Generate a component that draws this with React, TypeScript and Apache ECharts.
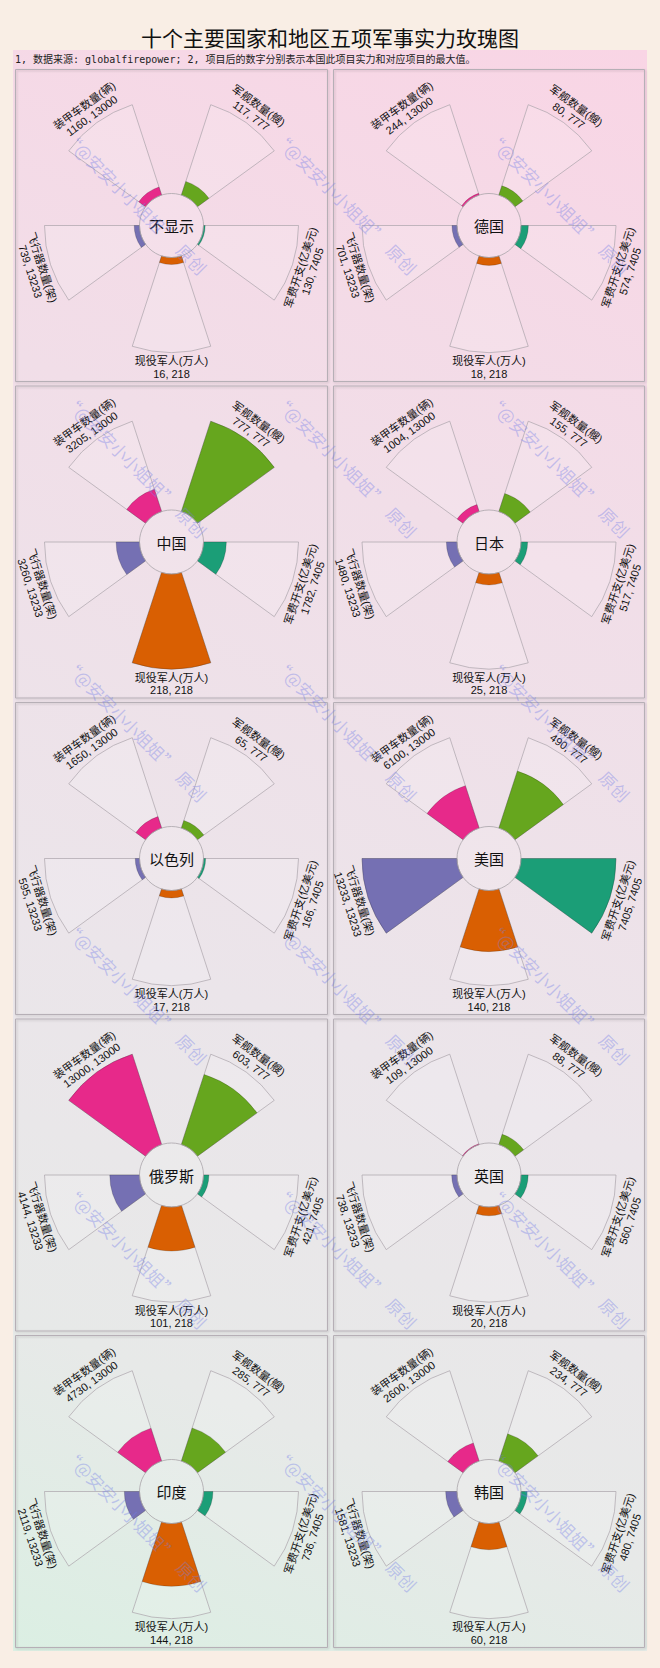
import React, { useEffect, useRef } from "react";
import * as echarts from "echarts";

// ---------------- data ----------------
const countries = ["不显示", "德国", "中国", "日本", "以色列", "美国", "俄罗斯", "英国", "印度", "韩国"];
const itemNames = ["装甲车数量(辆)", "军舰数量(艘)", "军费开支(亿美元)", "现役军人(万人)", "飞行器数量(架)"];
const tanks = [1160, 244, 3205, 1004, 1650, 6100, 13000, 109, 4730, 2600];
const warships = [117, 80, 777, 155, 65, 490, 603, 88, 285, 234];
const spending = [130, 574, 1782, 517, 166, 7405, 421, 560, 736, 480];
const troops = [16, 18, 218, 25, 17, 140, 101, 20, 144, 60];
const aircraft = [739, 701, 3260, 1480, 595, 13233, 4144, 738, 2119, 1581];
const itemColors = ["#e7298a", "#66a61e", "#1b9e77", "#d95f02", "#7570b3"];
const titleText = "十个主要国家和地区五项军事实力玫瑰图";
const noteText = "1, 数据来源: globalfirepower; 2, 项目后的数字分别表示本国此项目实力和对应项目的最大值。";
const watermarkText = "“@安安小小姐姐”  原创";

// ---------------- layout ----------------
const W = 660;
const H = 1668;
const panelX = [15, 333];
const panelW = [313, 312];
const panelTop = [69, 385.5, 702, 1018.5, 1335];
const panelH = 313;
const R0 = 32;
const R1 = 127;
const RL = 142;
const CJK = "'Noto Sans CJK SC', 'Noto Sans', sans-serif";
const LABEL_FONT = "'Liberation Sans', 'Noto Sans CJK SC', sans-serif";

const seriesByItem = [tanks, warships, spending, troops, aircraft];
const maxByItem = seriesByItem.map((a) => Math.max(...a));
const slots = ["s0", "g0", "s1", "g1", "s2", "g2", "s3", "g3", "s4", "g4"];

export default function App() {
  const ref = useRef<HTMLDivElement>(null);
  useEffect(() => {
    document.body.style.margin = "0";
    const chart = echarts.init(ref.current!, null, { renderer: "svg", width: W, height: H });

    const centers = countries.map((_, i) => {
      const col = i % 2;
      const row = Math.floor(i / 2);
      return [panelX[col] + panelW[col] / 2, panelTop[row] + panelH / 2];
    });

    const graphics: any[] = [];
    // chart-area gradient
    graphics.push({
      type: "rect",
      z: -20,
      silent: true,
      shape: { x: 13, y: 50, width: 634, height: 1601 },
      style: {
        fill: new echarts.graphic.LinearGradient(
          647, 50, 13, 1651,
          [
            { offset: 0, color: "#f9d5e5" },
            { offset: 0.3, color: "#f1dee8" },
            { offset: 0.6, color: "#ebe5ea" },
            { offset: 0.82, color: "#e7e9e8" },
            { offset: 1, color: "#dbefe3" },
          ],
          true
        ),
      },
    });
    // panels
    countries.forEach((_, i) => {
      const col = i % 2;
      const row = Math.floor(i / 2);
      graphics.push({
        type: "rect",
        z: -10,
        silent: true,
        shape: { x: panelX[col] + 0.5, y: panelTop[row] + 0.5, width: panelW[col] - 1, height: panelH - 1 },
        style: { fill: "rgba(255,255,255,0)", stroke: "#b6afb6", lineWidth: 1, shadowBlur: 2, shadowColor: "rgba(0,0,0,0.18)", shadowOffsetX: 1, shadowOffsetY: 1 },
      });
    });
    // title & note
    graphics.push({
      type: "text",
      z: 50,
      x: 330,
      y: 37,
      style: { text: titleText, fontSize: 21, fontFamily: CJK, fill: "#111", align: "center", verticalAlign: "middle" },
    });
    graphics.push({
      type: "text",
      z: 50,
      x: 15,
      y: 59,
      style: { text: noteText, fontSize: 10, fontFamily: "'DejaVu Sans Mono', 'Noto Sans CJK SC', monospace", fill: "#222", align: "left", verticalAlign: "middle" },
    });
    // centers & labels
    countries.forEach((name, i) => {
      const [cx, cy] = centers[i];
      graphics.push({
        type: "circle",
        z: 40,
        silent: true,
        shape: { cx, cy, r: R0 },
        style: { fill: "rgba(255,255,255,0.12)", stroke: "#aaa4aa", lineWidth: 0.8 },
      });
      graphics.push({
        type: "text",
        z: 50,
        x: cx,
        y: cy,
        style: { text: name, fontSize: 15, fontFamily: CJK, fill: "#111", align: "center", verticalAlign: "middle" },
      });
      itemNames.forEach((item, k) => {
        const theta = 126 - 72 * k;
        const rad = (theta * Math.PI) / 180;
        const rot = Math.sin(rad) > 0 ? theta - 90 : theta + 90;
        graphics.push({
          type: "text",
          z: 50,
          x: cx + RL * Math.cos(rad),
          y: cy - RL * Math.sin(rad),
          rotation: (rot * Math.PI) / 180,
          style: {
            text: item + "\n" + seriesByItem[k][i] + ", " + maxByItem[k],
            fontSize: 11,
            lineHeight: 12.5,
            fontFamily: LABEL_FONT,
            fill: "#111",
            align: "center",
            verticalAlign: "middle",
          },
        });
      });
    });
    // watermarks
    const wmX = [67, 277, 490];
    const wmY = [130, 393, 657, 920, 1184, 1447];
    wmY.forEach((y) =>
      wmX.forEach((x) => {
        graphics.push({
          type: "text",
          z: 90,
          silent: true,
          x,
          y: y + 4,
          rotation: -Math.PI / 4,
          style: { text: watermarkText, fontSize: 17, fontFamily: CJK, fill: "rgba(115,125,232,0.38)", align: "left", verticalAlign: "middle" },
        });
      })
    );

    const polar = centers.map((c) => ({ center: c, radius: [R0, R1] }));
    const angleAxis = countries.map((_, i) => ({
      polarIndex: i,
      type: "category",
      data: slots,
      startAngle: 144,
      clockwise: true,
      axisLine: { show: false },
      axisTick: { show: false },
      axisLabel: { show: false },
      splitLine: { show: false },
    }));
    const radiusAxis = countries.map((_, i) => ({
      polarIndex: i,
      type: "value",
      min: 0,
      max: 1,
      axisLine: { show: false },
      axisTick: { show: false },
      axisLabel: { show: false },
      splitLine: { show: false },
    }));
    const series: any[] = [];
    countries.forEach((_, i) => {
      series.push({
        type: "bar",
        coordinateSystem: "polar",
        polarIndex: i,
        silent: true,
        barCategoryGap: "0%",
        barGap: "-100%",
        z: 2,
        itemStyle: { color: "rgba(255,255,255,0.14)", borderColor: "#aaa4aa", borderWidth: 0.7 },
        data: slots.map((_, j) => (j % 2 === 0 ? 1 : "-")),
      });
      series.push({
        type: "bar",
        coordinateSystem: "polar",
        polarIndex: i,
        silent: true,
        barCategoryGap: "0%",
        barGap: "-100%",
        z: 3,
        itemStyle: { borderColor: "rgba(0,0,0,0.35)", borderWidth: 0.5 },
        data: slots.map((_, j) =>
          j % 2 === 0
            ? { value: seriesByItem[j / 2][i] / maxByItem[j / 2], itemStyle: { color: itemColors[j / 2] } }
            : "-"
        ),
      });
    });

    chart.setOption({
      animation: false,
      backgroundColor: "#f9eee5",
      polar,
      angleAxis,
      radiusAxis,
      series,
      graphic: { elements: graphics },
    });
    return () => chart.dispose();
  }, []);
  return <div ref={ref} style={{ width: W, height: H, position: "absolute", left: 0, top: 0 }} />;
}
